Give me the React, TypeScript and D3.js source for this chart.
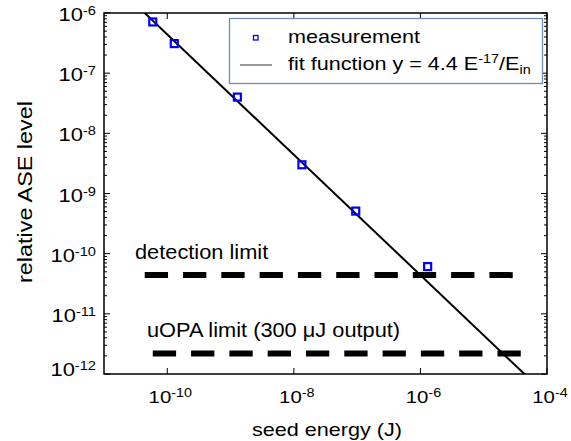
import React from 'react';
import * as d3 from 'd3';

// ---- data ----
const seedEnergy = [5.9e-11, 1.29e-10, 1.28e-9, 1.34e-8, 9.5e-8, 1.3e-6];
const aseLevel = [7.1e-7, 3.1e-7, 4.0e-8, 3.0e-9, 5.1e-10, 6.1e-11];
const fitCoef = 4.4e-17;
const fitEnergyRange = [1e-11, 1e-4];
const detectionLimit = 4.4e-11;
const detectionRange = [4.4e-11, 3.1e-5];
const uopaLimit = 2.2e-12;
const uopaRange = [5.9e-11, 4.2e-5];
const xTickExps = [-10, -8, -6, -4];
const yTickExps = [-6, -7, -8, -9, -10, -11, -12];
const xDomain = [1e-11, 1e-4];
const yDomain = [1e-12, 1e-6];

const W = 571;
const H = 441;
const L = 104, R = 547, T = 13, B = 374;
const FONT = "'Liberation Sans', Arial, Helvetica, sans-serif";

type TP = {
  x: number; y: number; sx?: number; size: number; anchor?: string; rot?: number; children: React.ReactNode;
};
const STxt = ({ x, y, sx = 1, size, anchor = 'start', rot = 0, children }: TP) => (
  <text
    transform={`translate(${x},${y}) rotate(${rot}) scale(${sx},1)`}
    fontFamily={FONT}
    fontSize={size}
    textAnchor={anchor as any}
    fill="#000"
  >
    {children}
  </text>
);

export default function App() {
  const x = d3.scaleLog().domain(xDomain).range([L, R]);
  const y = d3.scaleLog().domain(yDomain).range([B, T]);

  // minor y ticks
  const yMinor: number[] = [];
  for (let e = -12; e < -6; e++) {
    for (let m = 2; m <= 9; m++) yMinor.push(m * Math.pow(10, e));
  }

  const fitLine = d3
    .line<number>()
    .x((d) => x(d))
    .y((d) => y(fitCoef / d));
  const fitPts = [fitEnergyRange[0], fitEnergyRange[1]];

  return (
    <svg width={W} height={H} style={{ position: 'absolute', left: 0, top: 0, background: '#fff' }}>
      <defs>
        <clipPath id="plot">
          <rect x={L} y={T} width={R - L} height={B - T} />
        </clipPath>
      </defs>
      <rect x={0} y={0} width={W} height={H} fill="#fff" />

      {/* y ticks */}
      {yTickExps.map((e) => {
        const v = Math.pow(10, e);
        const py = y(v);
        return (
          <g key={'yt' + e}>
            <line x1={L} x2={L + 6} y1={py} y2={py} stroke="#000" strokeWidth={1} />
            <line x1={R} x2={R - 6} y1={py} y2={py} stroke="#000" strokeWidth={1} />
          </g>
        );
      })}
      {yMinor.map((v, i) => {
        const py = y(v);
        return (
          <g key={'ym' + i}>
            <line x1={L} x2={L + 3} y1={py} y2={py} stroke="#000" strokeWidth={1} />
            <line x1={R} x2={R - 3} y1={py} y2={py} stroke="#000" strokeWidth={1} />
          </g>
        );
      })}
      {/* x ticks */}
      {xTickExps.map((e) => {
        const px = x(Math.pow(10, e));
        return (
          <g key={'xt' + e}>
            <line x1={px} x2={px} y1={B} y2={B - 6} stroke="#000" strokeWidth={1} />
            <line x1={px} x2={px} y1={T} y2={T + 6} stroke="#000" strokeWidth={1} />
          </g>
        );
      })}

      {/* y tick labels */}
      {yTickExps.map((e) => {
        const py = y(Math.pow(10, e));
        const by = e === -12 ? py + 2 : py + 8;
        return (
          <STxt key={'yl' + e} x={96} y={by} size={18} sx={1.22} anchor="end">
            <tspan>10</tspan>
            <tspan fontSize={12} dy={-6}>{String(e)}</tspan>
          </STxt>
        );
      })}
      {/* x tick labels */}
      {xTickExps.map((e) => {
        const px = x(Math.pow(10, e));
        return (
          <STxt key={'xl' + e} x={px + 3} y={403} size={17} sx={1.2} anchor="middle">
            <tspan>10</tspan>
            <tspan fontSize={12} dy={-6}>{String(e)}</tspan>
          </STxt>
        );
      })}

      {/* axis titles */}
      <STxt x={327} y={436} size={18} sx={1.2} anchor="middle">seed energy (J)</STxt>
      <STxt x={32} y={192} size={19.5} sx={1.2} anchor="middle" rot={-90}>relative ASE level</STxt>

      {/* limit lines */}
      <g clipPath="url(#plot)">
        <line
          x1={x(detectionRange[0])}
          x2={x(detectionRange[1])}
          y1={y(detectionLimit)}
          y2={y(detectionLimit)}
          stroke="#000"
          strokeWidth={6}
          strokeDasharray="23.3 15"
        />
        <line
          x1={x(uopaRange[0])}
          x2={x(uopaRange[1])}
          y1={y(uopaLimit)}
          y2={y(uopaLimit)}
          stroke="#000"
          strokeWidth={6}
          strokeDasharray="23.3 15"
        />
        <path d={fitLine(fitPts) || ''} fill="none" stroke="#000" strokeWidth={2} />
      </g>

      <STxt x={135} y={259} size={20} sx={1.09}>detection limit</STxt>
      <STxt x={147} y={337} size={20} sx={1.09}>uOPA limit (300 μJ output)</STxt>

      {/* measurement markers */}
      {seedEnergy.map((e, i) => (
        <rect
          key={'m' + i}
          x={x(e) - 3.5}
          y={y(aseLevel[i]) - 3.5}
          width={7}
          height={7}
          fill="none"
          stroke="#0000ff"
          strokeWidth={2.2}
        />
      ))}

      {/* frame */}
      <rect x={L} y={T} width={R - L} height={B - T} fill="none" stroke="#000" strokeWidth={1.5} />

      {/* legend */}
      <rect x={229.5} y={18.5} width={313} height={65} fill="#fff" stroke="#6f8db0" strokeWidth={1.3} />
      <rect x={253.5} y={35.5} width={4.5} height={4.5} fill="none" stroke="#0000ff" strokeWidth={1.3} />
      <line x1={240} x2={272} y1={65} y2={65} stroke="#333" strokeWidth={1} />
      <STxt x={288} y={43} size={18} sx={1.2}>measurement</STxt>
      <STxt x={288} y={70} size={18} sx={1.2}>
        <tspan>fit function y = 4.4 E</tspan>
        <tspan fontSize={12} dy={-7}>-17</tspan>
        <tspan dy={7}>/E</tspan>
        <tspan fontSize={12} dy={4}>in</tspan>
      </STxt>
    </svg>
  );
}
